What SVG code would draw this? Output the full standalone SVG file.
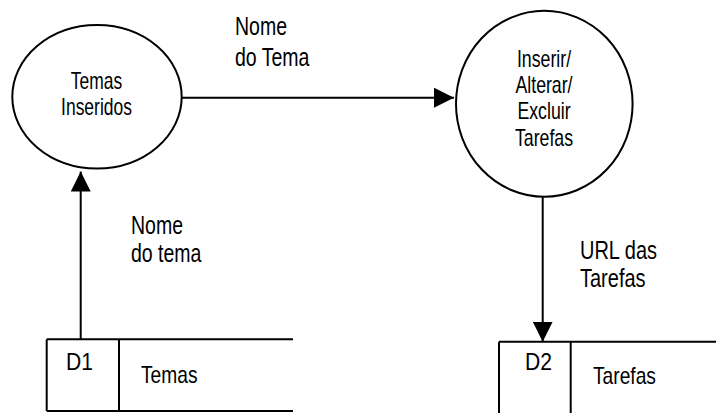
<svg xmlns="http://www.w3.org/2000/svg" width="716" height="413" viewBox="0 0 716 413">
<style>
  .shape { fill: none; stroke: #000; stroke-width: 2; }
  .line { fill: none; stroke: #000; stroke-width: 2; }
  text { font-family: "Liberation Sans", Arial, sans-serif; fill: #000; }
  .node { font-size: 23px; text-anchor: middle; }
  .lbl { font-size: 25px; }
  .store { font-size: 24px; }
</style>
<defs>
  <marker id="arrow" markerUnits="userSpaceOnUse" markerWidth="20" markerHeight="20" refX="20" refY="10" orient="auto">
    <path d="M0,0 L20,10 L0,20 Z" fill="#000"/>
  </marker>
</defs>
<rect width="716" height="413" fill="#fff"/>

<g id="temas-inseridos">
  <ellipse class="shape" cx="97" cy="96.7" rx="84.7" ry="71.7"/>
  <text class="node" transform="translate(96.5,89) scale(0.76,1)">Temas</text>
  <text class="node" transform="translate(96.5,115) scale(0.76,1)">Inseridos</text>
</g>

<g id="inserir-alterar">
  <ellipse class="shape" cx="544.3" cy="103.8" rx="88.3" ry="93"/>
  <text class="node" transform="translate(544,67) scale(0.77,1)">Inserir/</text>
  <text class="node" transform="translate(544,93) scale(0.77,1)">Alterar/</text>
  <text class="node" transform="translate(544,119) scale(0.77,1)">Excluir</text>
  <text class="node" transform="translate(544,146) scale(0.77,1)">Tarefas</text>
</g>

<g id="d1">
  <line class="line" x1="46.7" y1="339.3" x2="293" y2="339.3"/>
  <line class="line" x1="46.7" y1="411" x2="293" y2="411"/>
  <line class="line" x1="46.7" y1="339.3" x2="46.7" y2="411"/>
  <line class="line" x1="119" y1="339.3" x2="119" y2="411"/>
  <text class="store" transform="translate(66,369.5) scale(0.88,1)">D1</text>
  <text class="store" transform="translate(141,383) scale(0.8,1)">Temas</text>
</g>

<g id="d2">
  <line class="line" x1="499" y1="341.7" x2="716" y2="341.7"/>
  <line class="line" x1="499" y1="341.7" x2="499" y2="413"/>
  <line class="line" x1="570.7" y1="341.7" x2="570.7" y2="413"/>
  <text class="store" transform="translate(525,370) scale(0.88,1)">D2</text>
  <text class="store" transform="translate(593,384.3) scale(0.8,1)">Tarefas</text>
</g>

<g id="connectors">
  <line class="line" x1="182" y1="97.7" x2="454" y2="97.7" marker-end="url(#arrow)"/>
  <text class="lbl" transform="translate(235,35) scale(0.78,1)">Nome</text>
  <text class="lbl" transform="translate(235,65.5) scale(0.78,1)">do Tema</text>

  <line class="line" x1="80.7" y1="339.3" x2="80.7" y2="171.5" marker-end="url(#arrow)"/>
  <text class="lbl" transform="translate(131,234) scale(0.78,1)">Nome</text>
  <text class="lbl" transform="translate(131,261.5) scale(0.78,1)">do tema</text>

  <line class="line" x1="542.7" y1="197" x2="542.7" y2="341.7" marker-end="url(#arrow)"/>
  <text class="lbl" transform="translate(580,259) scale(0.8,1)">URL das</text>
  <text class="lbl" transform="translate(580,286.5) scale(0.8,1)">Tarefas</text>
</g>
</svg>
